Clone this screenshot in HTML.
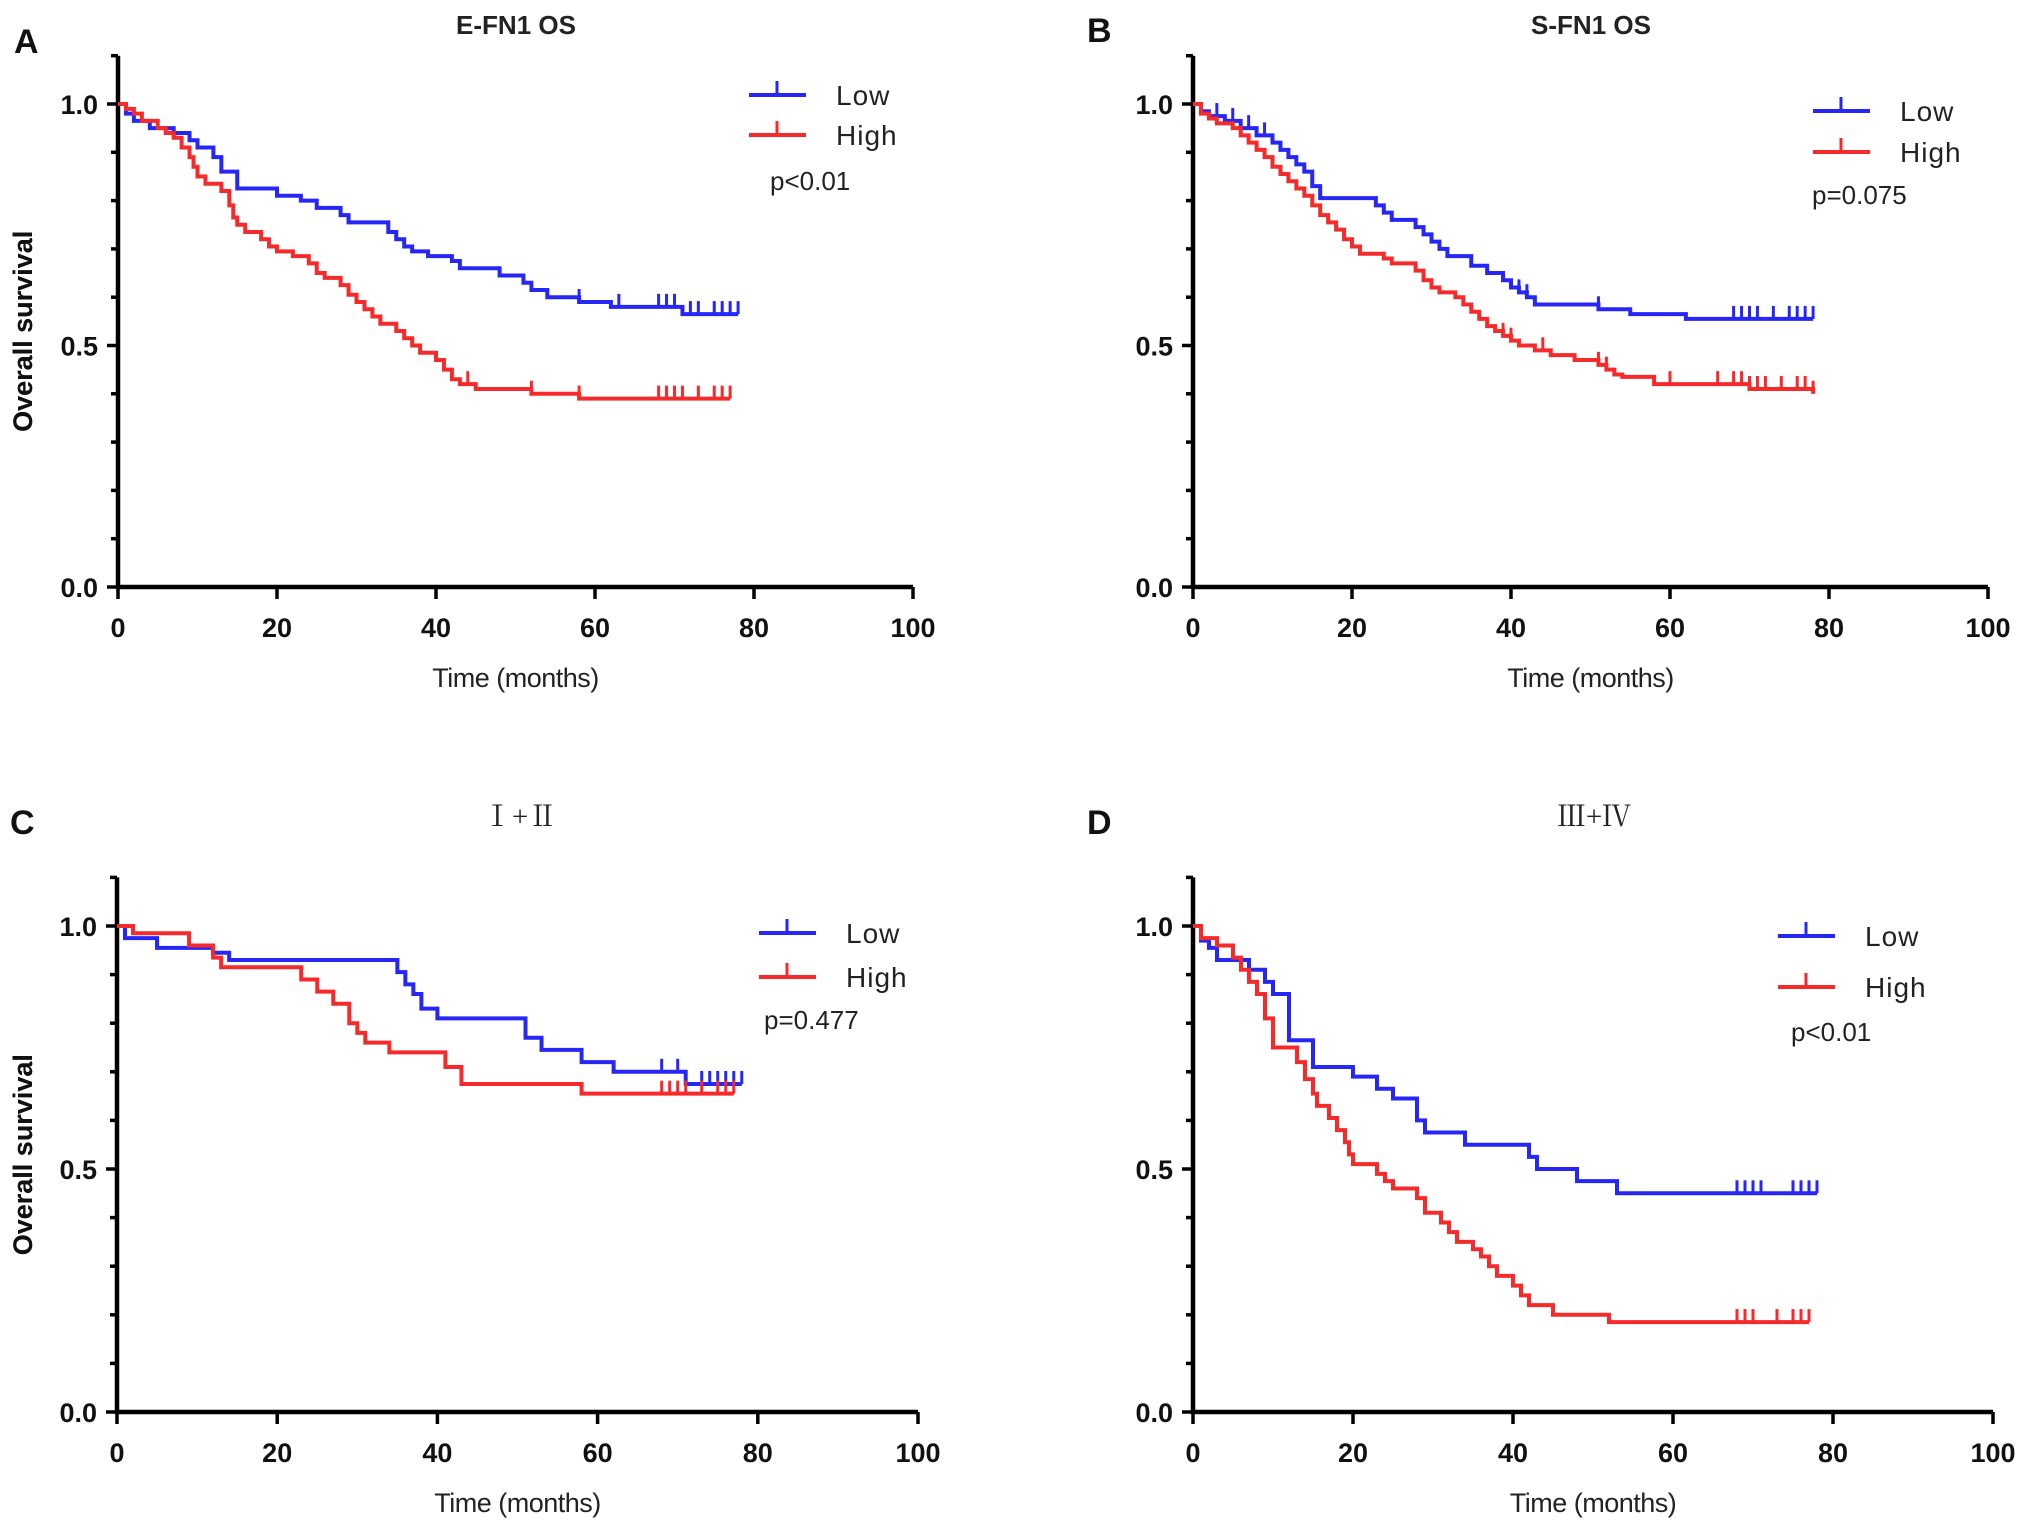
<!DOCTYPE html>
<html><head><meta charset="utf-8"><style>
html,body{margin:0;padding:0;background:#fff;}
svg{display:block;font-family:"Liberation Sans",Arial,sans-serif;}
</style></head><body>
<svg id="fig" width="2031" height="1534" viewBox="0 0 2031 1534" xmlns="http://www.w3.org/2000/svg"></svg>
<script>
const aLowT=[0,1,2,4,7,9,10,12,13,15,20,23,25,28,29,34,35,36,37,39,42,43,48,51,52,54,58,62,71,78];
const aLowS=[1,.98,.965,.95,.94,.925,.91,.89,.86,.825,.81,.80,.785,.77,.755,.735,.72,.705,.695,.685,.675,.66,.645,.63,.615,.60,.59,.58,.565,.565];
const aLowC=[58,63,68,69,70,72,73,75,76,77,78];
const aHighT=[0,1,2,3,5,6,7,8,9,9.5,10,11,13,14,14.5,15,16,18,19,20,22,24,25,26,28,29,30,31,32,33,35,36,37,38,40,41,42,43,45,52,58,77];
const aHighS=[1,.99,.98,.965,.95,.94,.93,.91,.89,.87,.85,.835,.82,.79,.765,.75,.735,.72,.705,.695,.685,.67,.65,.64,.625,.605,.59,.575,.56,.545,.53,.515,.50,.485,.47,.45,.43,.42,.41,.40,.39,.39];
const aHighC=[44,52,58,68,69,70,71,73,75,76,77];

const bLowT=[0,1,2,4,6,8,10,11,12,13,14,15,16,23,24,25,28,29,30,31,32,35,37,39,40,41,42,43,51,55,62,78];
const bLowS=[1,.985,.975,.965,.95,.935,.92,.905,.89,.875,.86,.83,.805,.79,.775,.76,.745,.73,.715,.70,.685,.665,.65,.635,.62,.61,.60,.585,.575,.565,.555,.555];
const bLowC=[3,5,7,9,41,42,51,68,69,70,71,73,75,76,77,78];
const bHighT=[0,1,2,3,5,6,7,8,9,10,11,12,13,14,15,16,17,18,19,20,21,24,25,28,29,30,31,33,34,35,36,37,38,39,40,41,43,45,48,51,52,53,54,58,70,78];
const bHighS=[1,.98,.97,.96,.95,.935,.92,.905,.89,.87,.855,.84,.825,.81,.79,.77,.755,.74,.72,.705,.69,.68,.67,.655,.635,.62,.61,.60,.585,.57,.555,.54,.53,.52,.51,.50,.49,.48,.47,.46,.45,.44,.435,.42,.41,.40];
const bHighC=[39,40,44,51,52,60,66,68,69,70,71,72,74,76,77,78];

const cLowT=[0,1,5,12,14,35,36,37,38,40,51,53,58,62,71,78];
const cLowS=[1,.975,.955,.945,.93,.905,.88,.86,.83,.81,.77,.745,.72,.70,.675,.675];
const cLowC=[68,70,71,73,74,75,76,77,78];
const cHighT=[0,2,9,12,13,23,25,27,29,30,31,34,41,43,58,77];
const cHighS=[1,.985,.96,.935,.915,.89,.865,.84,.80,.78,.76,.74,.71,.675,.655,.655];
const cHighC=[68,69,70,71,73,75,76,77];

const dLowT=[0,1,2,3,7,9,10,12,15,20,23,25,28,29,34,42,43,48,53,78];
const dLowS=[1,.97,.955,.93,.91,.885,.86,.765,.71,.69,.665,.645,.60,.575,.55,.525,.50,.475,.45,.45];
const dLowC=[68,69,70,71,75,76,77,78];
const dHighT=[0,1,3,5,6,7,8,9,10,13,14,15,15.5,17,18,19,19.5,20,23,24,25,28,29,31,32,33,35,36,37,38,40,41,42,45,52,77];
const dHighS=[1,.975,.96,.935,.91,.885,.86,.81,.75,.72,.685,.655,.63,.605,.58,.555,.53,.51,.49,.475,.46,.44,.41,.39,.37,.35,.335,.32,.30,.28,.26,.24,.22,.20,.185,.185];
const dHighC=[68,69,70,73,75,76,77];

const xTicks=[0,20,40,60,80,100];
const yTicks=["0.0","0.5","1.0"];

const svg=document.getElementById('fig');
const NS='http://www.w3.org/2000/svg';
const BLUE='#2626f5', RED='#f52a2a';
function mk(tag,attrs,parent){const e=document.createElementNS(NS,tag);for(const k in attrs)e.setAttribute(k,attrs[k]);(parent||svg).appendChild(e);return e;}
function txt(s,attrs,parent){const e=mk('text',attrs,parent);e.textContent=s;return e;}
function stepPoints(T,S,xs,ys){let d='M'+xs(T[0])+','+ys(S[0]);for(let i=1;i<T.length;i++){d+=' H'+xs(T[i])+' V'+ys(S[i]);}return d;}
function survAt(T,S,t){let s=S[0];for(let i=0;i<T.length;i++){if(T[i]<=t)s=S[i];}return s;}

function panel(p){
  const g=mk('g',{});
  
  
  const xs=v=>p.x0+(p.x100-p.x0)*v/100;
  const ys=v=>p.y0-(p.y0-p.y1)*v;
  const L=txt(p.id,{x:p.lx,y:p.ly,'font-size':34,'font-weight':'bold',fill:'#111'},g);
  
  const T=txt(p.title,{x:p.tx,y:p.ty,'font-size':p.roman?29:26,'font-weight':p.roman?'normal':'bold','text-anchor':'middle',fill:'#222','font-family':p.roman?'"Liberation Serif","Noto Serif CJK SC",serif':'"Liberation Sans",sans-serif'},g);
  
  const ax=mk('path',{d:'M'+xs(0)+','+ys(1.1)+' V'+p.y0+' H'+xs(100),stroke:'#000','stroke-width':4.5,fill:'none'},g);
  
  for(let i=0;i<=11;i++){const v=i/10;const maj=(i%5===0);
    mk('line',{x1:xs(0),x2:xs(0)-(maj?11:7),y1:ys(v),y2:ys(v),stroke:'#000','stroke-width':3.5},g);}
  yTicks.forEach(s=>{const t=txt(s,{x:xs(0)-20,y:ys(parseFloat(s))+10,'font-size':27,'font-weight':'bold','text-anchor':'end',fill:'#111'},g);
    });
  xTicks.forEach(v=>{mk('line',{x1:xs(v),x2:xs(v),y1:p.y0,y2:p.y0+12,stroke:'#000','stroke-width':3.5},g);
    const t=txt(String(v),{x:xs(v),y:p.y0+50,'font-size':27,'font-weight':'bold','text-anchor':'middle',fill:'#111'},g);
    });
  const xt=txt('Time (months)',{x:(xs(0)+xs(100))/2,y:p.y0+100,'font-size':27,'text-anchor':'middle',fill:'#222','letter-spacing':-0.5},g);
  
  const yx=23,yy=(ys(0)+ys(1.1))/2+10;
  const yt=txt('Overall survival',{x:yx,y:yy,transform:'rotate(-90 '+yx+' '+yy+')','font-size':27,'font-weight':'bold','text-anchor':'middle',fill:'#111',dy:9},g);
  
  [[p.lowT,p.lowS,p.lowC,BLUE,'low'],[p.highT,p.highS,p.highC,RED,'high']].forEach(([TT,SS,CC,col,nm])=>{
    const path=mk('path',{d:stepPoints(TT,SS,xs,ys),stroke:col,'stroke-width':4,fill:'none'},g);
    
    CC.forEach(c=>{const yv=ys(survAt(TT,SS,c));
      const tk=mk('line',{x1:xs(c),x2:xs(c),y1:yv-13,y2:yv,stroke:col,'stroke-width':3},g);
      });
  });
  [[p.legY[0],BLUE,'Low'],[p.legY[1],RED,'High']].forEach(([ly,col,lab])=>{
    const lg=mk('g',{},g);
    mk('line',{x1:p.legX,x2:p.legX+57,y1:ly,y2:ly,stroke:col,'stroke-width':4},lg);
    mk('line',{x1:p.legX+28,x2:p.legX+28,y1:ly-14,y2:ly,stroke:col,'stroke-width':3},lg);
    txt(lab,{x:p.legTX,y:ly+10,'font-size':28,fill:'#222','letter-spacing':1},lg);
  });
  const pv=txt(p.pval,{x:p.pX,y:p.pY,'font-size':26,fill:'#222'},g);
  
}

panel({id:'A',title:'E-FN1 OS',x0:118,x100:913,y1:104,y0:587,lx:14,ly:53,tx:516,ty:34,
  lowT:aLowT,lowS:aLowS,lowC:aLowC,highT:aHighT,highS:aHighS,highC:aHighC,
  legX:749,legY:[95,135],legTX:836,pval:'p<0.01',pX:770,pY:190});
panel({id:'B',title:'S-FN1 OS',x0:1193,x100:1988,y1:104,y0:587,lx:1087,ly:42,tx:1591,ty:34,
  lowT:bLowT,lowS:bLowS,lowC:bLowC,highT:bHighT,highS:bHighS,highC:bHighC,
  legX:1813,legY:[111,152],legTX:1900,pval:'p=0.075',pX:1812,pY:204});
panel({id:'C',title:'Ⅰ+Ⅱ',roman:true,x0:117,x100:918,y1:926,y0:1412,lx:10,ly:834,tx:520,ty:826,
  lowT:cLowT,lowS:cLowS,lowC:cLowC,highT:cHighT,highS:cHighS,highC:cHighC,
  legX:759,legY:[933,977],legTX:846,pval:'p=0.477',pX:764,pY:1029});
panel({id:'D',title:'Ⅲ+Ⅳ',roman:true,x0:1193,x100:1993,y1:926,y0:1412,lx:1087,ly:834,tx:1594,ty:826,
  lowT:dLowT,lowS:dLowS,lowC:dLowC,highT:dHighT,highS:dHighS,highC:dHighC,
  legX:1778,legY:[936,987],legTX:1865,pval:'p<0.01',pX:1791,pY:1041});
</script>
</body></html>
